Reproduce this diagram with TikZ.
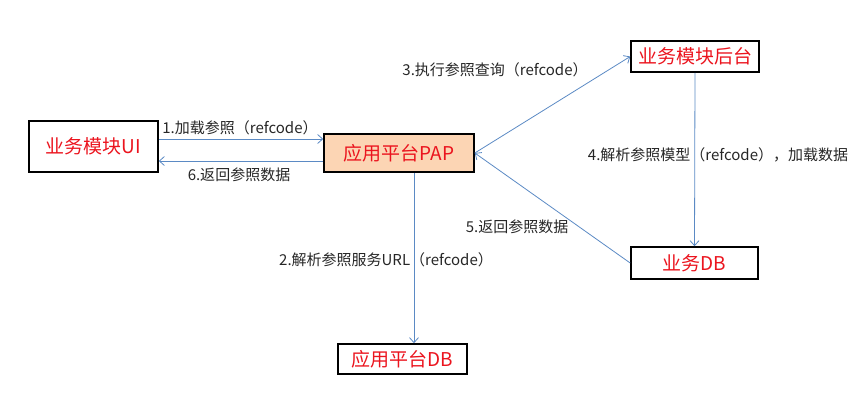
\documentclass[tikz,border=0pt]{standalone}
\usepackage{fontspec}
\setmainfont{Noto Sans CJK SC}
\usetikzlibrary{arrows.meta, positioning, calc}
\definecolor{PAPOrange}{RGB}{252,213,180}
\definecolor{LinkBlue}{RGB}{91,138,196}
\definecolor{BoxRed}{RGB}{235,20,30}

\tikzset{
  box/.style={draw=black, line width=1.6pt, inner sep=0pt, text=BoxRed,
    font=\fontsize{19}{19}\selectfont},
  link/.style={draw=LinkBlue, line width=0.8pt, -{Straight Barb[length=5pt,width=9pt]}},
  tag/.style={font=\fontsize{15}{15}\selectfont, text=black!85, inner sep=0pt}
}

\begin{document}
\begin{tikzpicture}[x=1pt, y=-1pt]
  \useasboundingbox (0,0) rectangle (856,400);
  % boxes
  \node[box, minimum width=129pt, minimum height=51pt] (ui) at (93.5,146.5) {业务模块UI};
  \node[box, fill=PAPOrange, minimum width=150pt, minimum height=38pt] (pap) at (399,153) {应用平台PAP};
  \node[box, minimum width=128pt, minimum height=31pt] (ht) at (695,56.5) {业务模块后台};
  \node[box, minimum width=127pt, minimum height=32pt] (bdb) at (694.5,263) {业务DB};
  \node[box, minimum width=129pt, minimum height=30pt] (pdb) at (402.5,359) {应用平台DB};
  % connectors
  \coordinate (down) at ($(pap.south)+(15,0)$);
  \draw[link] (ui.east |- 0,139) -- (pap.west |- 0,139);
  \draw[link] (pap.west |- 0,161) -- (ui.east |- 0,161);
  \draw[link] (pap.east) -- (ht.west);
  \draw[link] (ht.south) -- (bdb.north);
  \draw[link] (bdb.west) -- (pap.east);
  \draw[link] (down) -- (down |- pdb.north);
  % labels
  \node[tag] (l1) at (240,128) {1.加载参照（refcode）};
  \node[tag] (l6) at (239,175) {6.返回参照数据};
  \node[tag] (l3) at (495,70) {3.执行参照查询（refcode）};
  \node[tag] (l4) at (718,155) {4.解析参照模型（refcode），加载数据};
  \node[tag] (l5) at (517,227) {5.返回参照数据};
  \node[tag] (l2) at (386,260) {2.解析参照服务URL（refcode）};
\end{tikzpicture}
\end{document}
